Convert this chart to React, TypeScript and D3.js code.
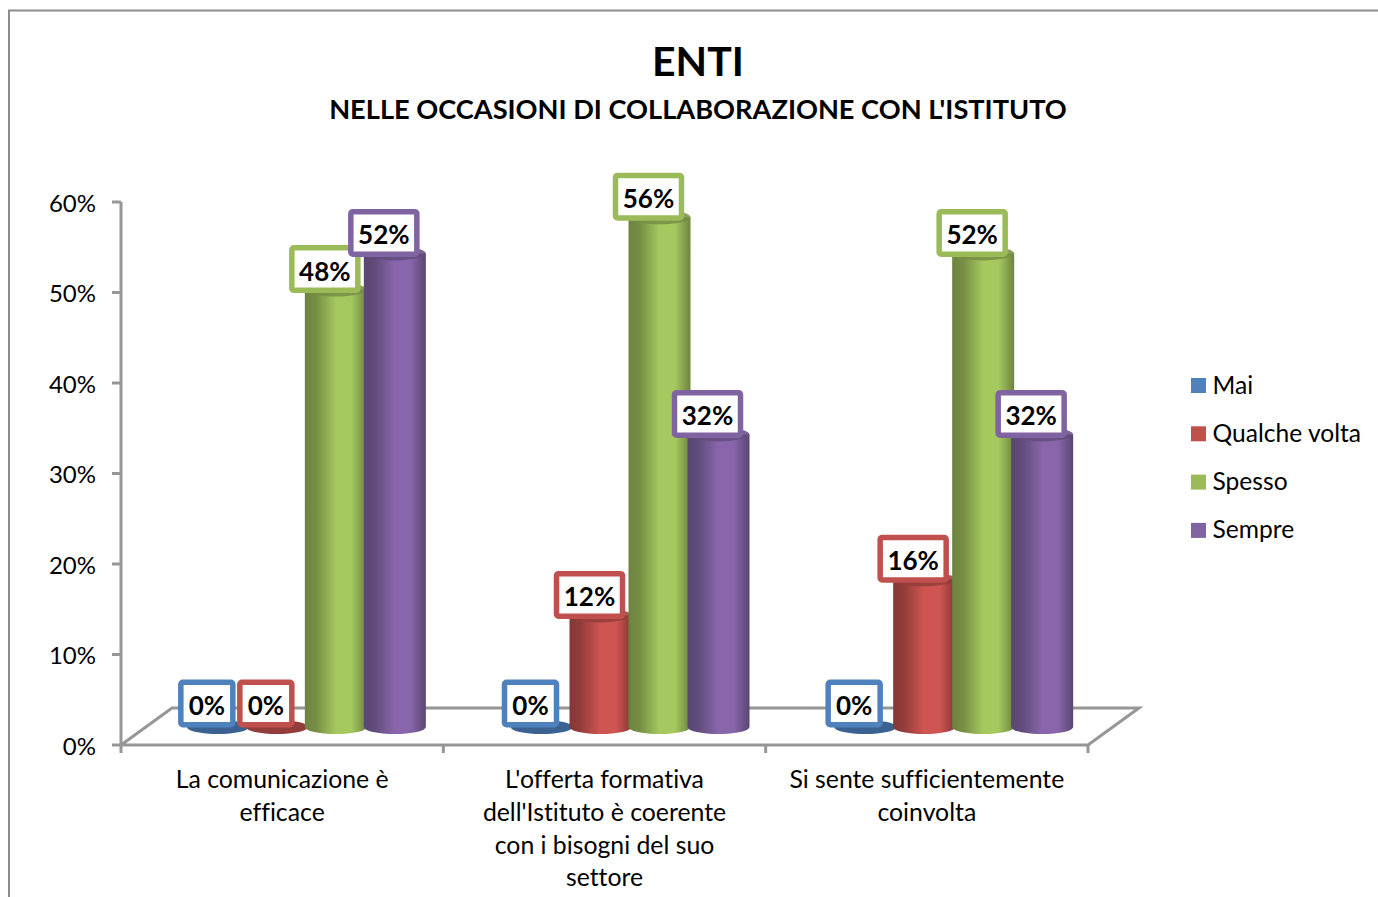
import React from "react";
import * as d3 from "d3";

const categories = [
  ["La comunicazione è", "efficace"],
  ["L'offerta formativa", "dell'Istituto è coerente", "con i bisogni del suo", "settore"],
  ["Si sente sufficientemente", "coinvolta"],
];
const seriesNames = ["Mai", "Qualche volta", "Spesso", "Sempre"];
const mai = [0, 0, 0];
const qualcheVolta = [0, 12, 16];
const spesso = [48, 56, 52];
const sempre = [52, 32, 32];
const seriesValues = [mai, qualcheVolta, spesso, sempre];
const yTicks = [0, 10, 20, 30, 40, 50, 60];
const colors = ["#4f81bd", "#c0504d", "#9bbb59", "#8064a2"];
const mids = ["#4f81bd", "#cf5552", "#a5c85f", "#8966ab"];
const edges = ["#37597f", "#853735", "#6d8340", "#5a4672"];
const caps = ["#3a6190", "#933d3b", "#768e44", "#614c7c"];

const FONT = "Lato, 'Noto Sans', sans-serif";
const FRONT_LEFT = 121;
const FRONT_RIGHT = 1088;
const DEPTH_X = 51;
const DEPTH_Y = 37;

export default function App() {
  const y = d3.scaleLinear().domain([0, 60]).range([745, 202]);
  const yBar = d3.scaleLinear().domain([0, 60]).range([724, 181]);
  const baseY = 727;
  const x0 = d3.scaleBand<number>().domain([0, 1, 2]).range([FRONT_LEFT, FRONT_RIGHT]);
  const xBars = d3.scaleBand<number>().domain([0, 1, 2]).range([144.5, 1115.5]);
  const x1 = d3.scaleBand<number>().domain([0, 1, 2, 3]).range([0, 236]);
  const barW = 62;
  const ry = 7;
  const bx = (c: number, s: number) =>
    xBars(c)! + xBars.bandwidth() / 2 - 118 + x1(s)! + x1.bandwidth() / 2;

  const axis = "#969696";
  return (
    <svg width={1378} height={897} style={{ position: "fixed", left: 0, top: 0, display: "block", background: "#fff", fontVariantLigatures: "none" }} fontFamily={FONT}>
      <defs>
        {colors.map((_, i) => (
          <linearGradient key={i} id={`g${i}`} x1="0" x2="1" y1="0" y2="0">
            <stop offset="0" stopColor={edges[i]} />
            <stop offset="0.18" stopColor={caps[i]} />
            <stop offset="0.5" stopColor={mids[i]} />
            <stop offset="0.75" stopColor={mids[i]} />
            <stop offset="1" stopColor={edges[i]} />
          </linearGradient>
        ))}
      </defs>
      <path d="M9,897V10.5H1378" fill="none" stroke="#8c8c8c" strokeWidth={2} />

      <text x={698} y={76} textAnchor="middle" fontSize={41} fontWeight={700} fill="#000">ENTI</text>
      <text x={698} y={118.5} textAnchor="middle" fontSize={27.2} fontWeight={700} fill="#000">NELLE OCCASIONI DI COLLABORAZIONE CON L'ISTITUTO</text>

      <g stroke={axis} strokeWidth={3} fill="none">
        <path d={`M${FRONT_LEFT},${y(60)}V${y(0)}H${FRONT_RIGHT}L${FRONT_RIGHT + DEPTH_X},${y(0) - DEPTH_Y}H${FRONT_LEFT + DEPTH_X}L${FRONT_LEFT},${y(0)}`} />
        {yTicks.map((t) => (
          <line key={t} x1={FRONT_LEFT - 9} x2={FRONT_LEFT} y1={y(t)} y2={y(t)} />
        ))}
        {[0, 1, 2].map((c) => (
          <line key={c} x1={x0(c)!} x2={x0(c)!} y1={745} y2={753} />
        ))}
        <line x1={FRONT_RIGHT} x2={FRONT_RIGHT} y1={745} y2={753} />
      </g>

      {yTicks.map((t) => (
        <text key={t} x={96} y={y(t) + 9.5} textAnchor="end" fontSize={24} fill="#000">{t}%</text>
      ))}

      {categories.map((lines, c) => (
        <text key={c} textAnchor="middle" fontSize={24.8} fill="#000">
          {lines.map((l, i) => (
            <tspan key={i} x={x0(c)! + x0.bandwidth() / 2} y={788 + i * 32.8}>{l}</tspan>
          ))}
        </text>
      ))}

      {categories.map((_, c) =>
        seriesValues.map((vals, s) => {
          const v = vals[c];
          const cx = bx(c, s);
          const top = yBar(v);
          const l = cx - barW / 2;
          const r = cx + barW / 2;
          return (
            <g key={`${c}-${s}`}>
              {v > 0 && (
                <path d={`M${l},${top}V${baseY}A${barW / 2},${ry} 0 0 0 ${r},${baseY}V${top}Z`} fill={`url(#g${s})`} />
              )}
              {v > 0 ? (
                <path d={`M${l},${top}A${barW / 2},${ry} 0 0 0 ${r},${top}A${barW / 2},${ry} 0 0 0 ${l},${top}Z`} fill={caps[s]} opacity={0.85} />
              ) : (
                <ellipse cx={cx} cy={baseY} rx={barW / 2} ry={ry} fill={caps[s]} />
              )}
            </g>
          );
        })
      )}

      {categories.map((_, c) =>
        seriesValues.map((vals, s) => {
          const v = vals[c];
          const cx = bx(c, s) - 11;
          const cy = yBar(v) - 20.5;
          const w = v === 0 ? 52 : 66;
          const h = 42.5;
          return (
            <g key={`${c}-${s}`}>
              <rect x={cx - w / 2} y={cy - h / 2} width={w} height={h} rx={2} fill="#fff" stroke={colors[s]} strokeWidth={5.5} />
              <text x={cx} y={cy + 11.5} textAnchor="middle" fontSize={26} fontWeight={700} fill="#000">{v}%</text>
            </g>
          );
        })
      )}

      {seriesNames.map((n, i) => {
        const ly = 385.5 + i * 48.3;
        return (
          <g key={n}>
            <rect x={1191} y={ly - 7.5} width={15} height={15} fill={colors[i]} />
            <text x={1212.5} y={ly + 8} fontSize={24.6} fill="#000">{n}</text>
          </g>
        );
      })}
    </svg>
  );
}
